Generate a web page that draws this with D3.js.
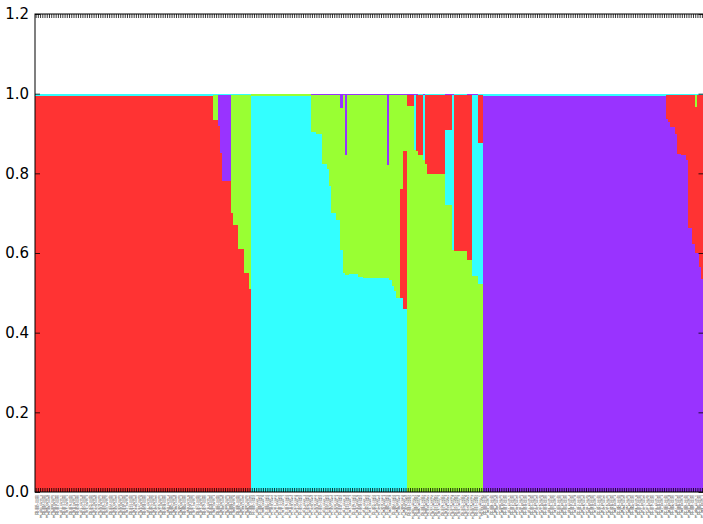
<!DOCTYPE html>
<html>
<head>
<meta charset="utf-8">
<script src="https://cdn.jsdelivr.net/npm/d3@7"></script>
<style>
  body { margin: 0; background: #fff; }
  svg { display: block; font-family: "DejaVu Sans", sans-serif; }
</style>
</head>
<body>
<div id="chart"></div>
<script>
// cluster colours (r = red, c = cyan, g = green, p = purple)
const clusterColors = { r: "#ff3333", c: "#33ffff", g: "#99ff33", p: "#9933ff" };

// ancestry proportions, one entry = [number of individuals, cluster, q, cluster, q, ...]
// segments listed from the bottom of the bar up
const popRed = [
    [80, "r", 0.995, "c", 0.005],
    [2, "r", 0.935, "g", 0.062, "c", 0.003],
    [1, "r", 0.92, "p", 0.077, "c", 0.003],
    [1, "r", 0.85, "p", 0.147, "c", 0.003],
    [4, "r", 0.78, "p", 0.217, "c", 0.003],
    [1, "r", 0.70, "g", 0.297, "c", 0.003],
    [2, "r", 0.67, "g", 0.327, "c", 0.003],
    [3, "r", 0.61, "g", 0.387, "c", 0.003],
    [2, "r", 0.55, "g", 0.447, "c", 0.003],
    [1, "r", 0.51, "g", 0.487, "c", 0.003]
];

const popCyan = [
    [27, "c", 0.995, "g", 0.005],
    [2, "c", 0.903, "g", 0.094, "p", 0.003],
    [3, "c", 0.899, "g", 0.098, "p", 0.003],
    [2, "c", 0.823, "g", 0.174, "p", 0.003],
    [1, "c", 0.811, "g", 0.186, "p", 0.003],
    [1, "c", 0.767, "g", 0.230, "p", 0.003],
    [2, "c", 0.701, "g", 0.296, "p", 0.003],
    [2, "c", 0.683, "g", 0.314, "p", 0.003],
    [1, "c", 0.608, "g", 0.357, "p", 0.035],
    [1, "c", 0.549, "g", 0.448, "p", 0.003],
    [1, "c", 0.546, "g", 0.301, "p", 0.153],
    [1, "c", 0.546, "g", 0.451, "p", 0.003],
    [4, "c", 0.547, "g", 0.450, "p", 0.003],
    [2, "c", 0.541, "g", 0.456, "p", 0.003],
    [11, "c", 0.538, "g", 0.459, "p", 0.003],
    [1, "c", 0.538, "g", 0.284, "p", 0.178],
    [1, "c", 0.533, "g", 0.464, "p", 0.003],
    [1, "c", 0.516, "g", 0.481, "p", 0.003],
    [1, "c", 0.504, "g", 0.493, "p", 0.003],
    [2, "c", 0.487, "g", 0.510, "p", 0.003],
    [1, "c", 0.487, "r", 0.273, "g", 0.237, "p", 0.003],
    [2, "c", 0.459, "r", 0.396, "g", 0.142, "p", 0.003]
];

const popGreen = [
    [3, "g", 0.969, "r", 0.028, "p", 0.003],
    [1, "g", 0.858, "c", 0.139, "p", 0.003],
    [1, "g", 0.856, "r", 0.141, "p", 0.003],
    [2, "g", 0.846, "r", 0.151, "c", 0.003],
    [1, "g", 0.834, "c", 0.163, "p", 0.003],
    [1, "g", 0.824, "r", 0.173, "c", 0.003],
    [8, "g", 0.799, "r", 0.198, "c", 0.003],
    [3, "g", 0.721, "c", 0.189, "r", 0.087, "p", 0.003],
    [1, "g", 0.608, "c", 0.389, "p", 0.003],
    [6, "g", 0.605, "r", 0.392, "c", 0.003],
    [2, "g", 0.583, "r", 0.414, "p", 0.003],
    [3, "g", 0.543, "c", 0.454, "p", 0.003],
    [2, "g", 0.523, "c", 0.353, "r", 0.121, "c", 0.003]
];

const popPurple = [
    [82, "p", 0.995, "c", 0.005],
    [1, "p", 0.937, "r", 0.060, "c", 0.003],
    [1, "p", 0.930, "r", 0.067, "c", 0.003],
    [2, "p", 0.916, "r", 0.081, "c", 0.003],
    [1, "p", 0.900, "r", 0.097, "c", 0.003],
    [2, "p", 0.849, "r", 0.148, "c", 0.003],
    [2, "p", 0.847, "r", 0.150, "c", 0.003],
    [1, "p", 0.834, "r", 0.163, "c", 0.003],
    [2, "p", 0.664, "r", 0.333, "c", 0.003],
    [1, "p", 0.622, "r", 0.375, "c", 0.003],
    [1, "p", 0.600, "r", 0.366, "g", 0.031, "c", 0.003],
    [1, "p", 0.600, "r", 0.397, "c", 0.003],
    [1, "p", 0.566, "r", 0.431, "c", 0.003],
    [1, "p", 0.534, "r", 0.463, "c", 0.003]
];

const populations = [
    { code: "PR", site: "north", runs: popRed },
    { code: "PC", site: "coast", runs: popCyan },
    { code: "PG", site: "valley", runs: popGreen },
    { code: "PP", site: "south", runs: popPurple }
];

const yTicks = [0.0, 0.2, 0.4, 0.6, 0.8, 1.0, 1.2];

// expand runs to one record per individual
let samples = [];
populations.forEach(pop => {
    let k = 0;
    pop.runs.forEach(run => {
        for (let n = 0; n < run[0]; n++) {
            let segs = [];
            let y0 = 0;
            for (let j = 1; j < run.length; j += 2) {
                segs.push({ cluster: run[j], y0: y0, y1: y0 + run[j + 1] });
                y0 += run[j + 1];
            }
            k++;
            let id = pop.code + "_" + String(k).padStart(3, "0");
            // some sample names carry a longer site suffix
            let label = (k % 3 === 0) ? id + "_" + pop.site + "_" + (k % 7) : id + "_" + pop.site;
            samples.push({ id: id, label: label, segs: segs });
        }
    });
});

const W = 703, H = 524;
const margin = { top: 14, right: -0.5, bottom: 32, left: 35 };
const width = W - margin.left - margin.right;
const height = H - margin.top - margin.bottom;

const svg = d3.select("#chart").append("svg")
    .attr("width", W)
    .attr("height", H);

const g = svg.append("g")
    .attr("transform", `translate(${margin.left},${margin.top})`);

const x = d3.scaleBand()
    .domain(samples.map(d => d.id))
    .range([0, width])
    .padding(0);

const y = d3.scaleLinear()
    .domain([0, 1.2])
    .range([height, 0]);

// bars
const bars = g.selectAll(".sample")
    .data(samples)
    .enter()
    .append("g")
    .attr("class", "sample")
    .attr("transform", d => `translate(${x(d.id)},0)`);

bars.selectAll("rect")
    .data(d => d.segs)
    .enter()
    .append("rect")
    .attr("x", 0)
    .attr("width", x.bandwidth() + 0.6)
    .attr("y", s => y(s.y1))
    .attr("height", s => y(s.y0) - y(s.y1))
    .attr("fill", s => clusterColors[s.cluster])
    .attr("shape-rendering", "crispEdges");

// axes (ticks pointing inward, matplotlib classic look)
const yLeft = d3.axisLeft(y).tickValues(yTicks).tickFormat(d3.format(".1f")).tickSizeInner(-5).tickSizeOuter(0).tickPadding(6);
const yRight = d3.axisRight(y).tickValues(yTicks).tickFormat("").tickSizeInner(-5).tickSizeOuter(0);
const xBottom = d3.axisBottom(x).tickFormat("").tickSizeInner(-4).tickSizeOuter(0);
const xTop = d3.axisTop(x).tickFormat("").tickSizeInner(-4).tickSizeOuter(0);

g.append("g").attr("class", "axis").call(yLeft);
g.append("g").attr("class", "axis").attr("transform", `translate(${width},0)`).call(yRight);
g.append("g").attr("class", "axis").attr("transform", `translate(0,${height})`).call(xBottom);
g.append("g").attr("class", "axis").call(xTop);

g.selectAll(".axis .domain").remove();
g.selectAll(".axis line").attr("stroke", "#000").attr("stroke-width", 0.8);
g.selectAll(".axis text")
    .attr("fill", "#000")
    .style("font-size", "15px")
    .style("font-family", "DejaVu Sans, sans-serif");

// frame
g.append("rect")
    .attr("x", 0).attr("y", 0)
    .attr("width", width).attr("height", height)
    .attr("fill", "none")
    .attr("stroke", "#000")
    .attr("stroke-width", 1);

// individual labels, tiny and vertical
g.append("g")
    .selectAll("text")
    .data(samples)
    .enter()
    .append("text")
    .attr("transform", d => `translate(${x(d.id) + x.bandwidth() / 2 + 1},${height + 3}) rotate(-90)`)
    .attr("text-anchor", "end")
    .style("font-size", "2.9px")
    .attr("fill", "#333")
    .text(d => d.label);
</script>
</body>
</html>
